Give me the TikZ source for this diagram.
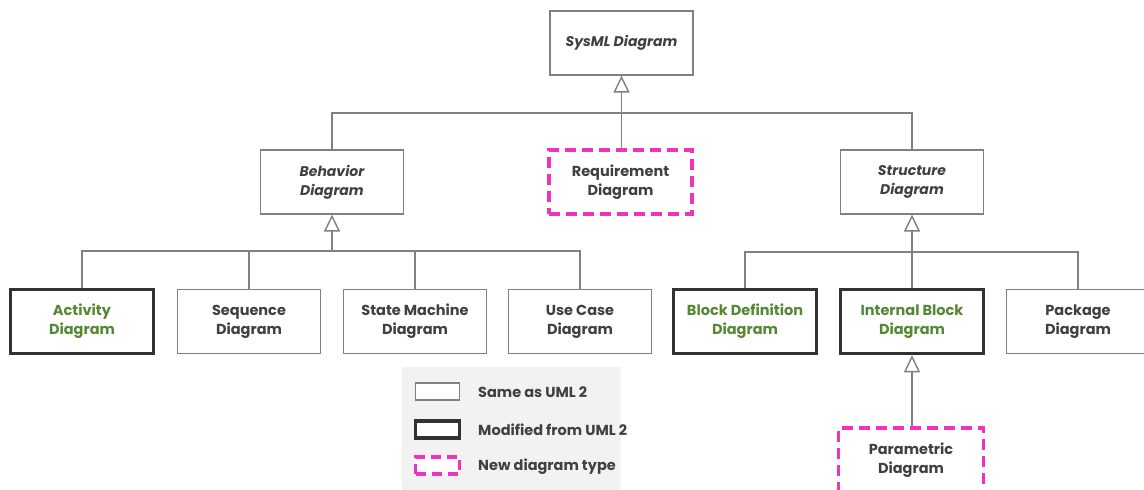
\documentclass[tikz,border=0pt]{standalone}
\usepackage{fontspec}
\setmainfont{Poppins}
\usetikzlibrary{arrows.meta}
\definecolor{txt}{RGB}{64,64,64}
\definecolor{grn}{RGB}{84,136,52}
\definecolor{mag}{RGB}{240,50,190}
\definecolor{thin}{RGB}{128,128,128}
\definecolor{thick}{RGB}{50,50,50}
\definecolor{lgbg}{RGB}{242,242,242}
\tikzset{
  box/.style={draw=thin, line width=1.2pt, fill=white, minimum width=143pt, minimum height=64pt,
    align=center, text=txt, font=\fontsize{14.5}{19}\selectfont\bfseries, inner sep=0pt},
  same/.style={box},
  abstractbox/.style={box, font=\fontsize{14}{19}\selectfont\bfseries\itshape},
  modified/.style={box, draw=thick, line width=3.5pt, text=grn},
  newtype/.style={box, draw=mag, line width=3.5pt, dash pattern=on 11pt off 6pt},
  conn/.style={draw=thin, line width=1.4pt},
  gen/.style={conn, -{Triangle[open, length=17pt, width=16pt, fill=white]}},
  lgtext/.style={anchor=west, text=txt, font=\fontsize{14.5}{16}\selectfont\bfseries, inner sep=0pt},
  lgbox/.style={minimum width=44pt, minimum height=17pt, inner sep=0pt, fill=white}
}
\begin{document}
\begin{tikzpicture}[x=1pt,y=-1pt]
\useasboundingbox (0,0) rectangle (1144,490);
% legend background
\fill[lgbg] (402,367) rectangle (621,490);
\node[abstractbox] (sysml) at (621.5,43) {SysML Diagram};
\node[abstractbox] (bhv) at (332,182) {Behavior\\Diagram};
\node[newtype] (req) at (620.5,182) {Requirement\\Diagram};
\node[abstractbox] (str) at (912,182) {Structure\\Diagram};
\node[modified] (act) at (82,321.5) {Activity\\Diagram};
\node[same] (seq) at (249,321.5) {Sequence\\Diagram};
\node[same] (stm) at (415,321.5) {State Machine\\Diagram};
\node[same] (uc) at (580,321.5) {Use Case\\Diagram};
\node[modified] (bdd) at (745,321.5) {Block Definition\\Diagram};
\node[modified] (ibd) at (912,321.5) {Internal Block\\Diagram};
\node[same] (pkg) at (1078,321.5) {Package\\Diagram};
\node[newtype, minimum width=145pt] (par) at (911,460) {Parametric\\Diagram};
% buses
\coordinate (tbus) at (621.5,113);
\coordinate (bbus) at (332,251);
\coordinate (sbus) at (912,252);
% top level
\draw[conn] (bhv.north) |- (tbus);
\draw[conn] (str.north) |- (tbus);
\draw[gen] (req.north -| tbus) -- (sysml.south);
% behavior
\draw[conn] (act.north) |- (bbus);
\draw[conn] (uc.north) |- (bbus);
\draw[conn] (seq.north) -- (seq.north |- bbus);
\draw[conn] (stm.north) -- (stm.north |- bbus);
\draw[gen] (bbus) -- (bhv.south);
% structure
\draw[conn] (bdd.north) |- (sbus);
\draw[conn] (pkg.north) |- (sbus);
\draw[gen] (ibd.north) -- (str.south);
% parametric
\draw[gen] (par.north -| ibd.south) -- (ibd.south);
% legend
\node[lgbox, draw=thin, line width=1.2pt] (l1) at (437.5,391.5) {};
\node[lgbox, draw=thick, line width=3.5pt] (l2) at (437.5,429.5) {};
\node[lgbox, draw=mag, line width=3.5pt, dash pattern=on 10pt off 6pt] (l3) at (437.5,465.5) {};
\node[lgtext] (t1) at (478,392) {Same as UML 2};
\node[lgtext] (t2) at (478,430) {Modified from UML 2};
\node[lgtext] (t3) at (478,467) {New diagram type};
\end{tikzpicture}
\end{document}
